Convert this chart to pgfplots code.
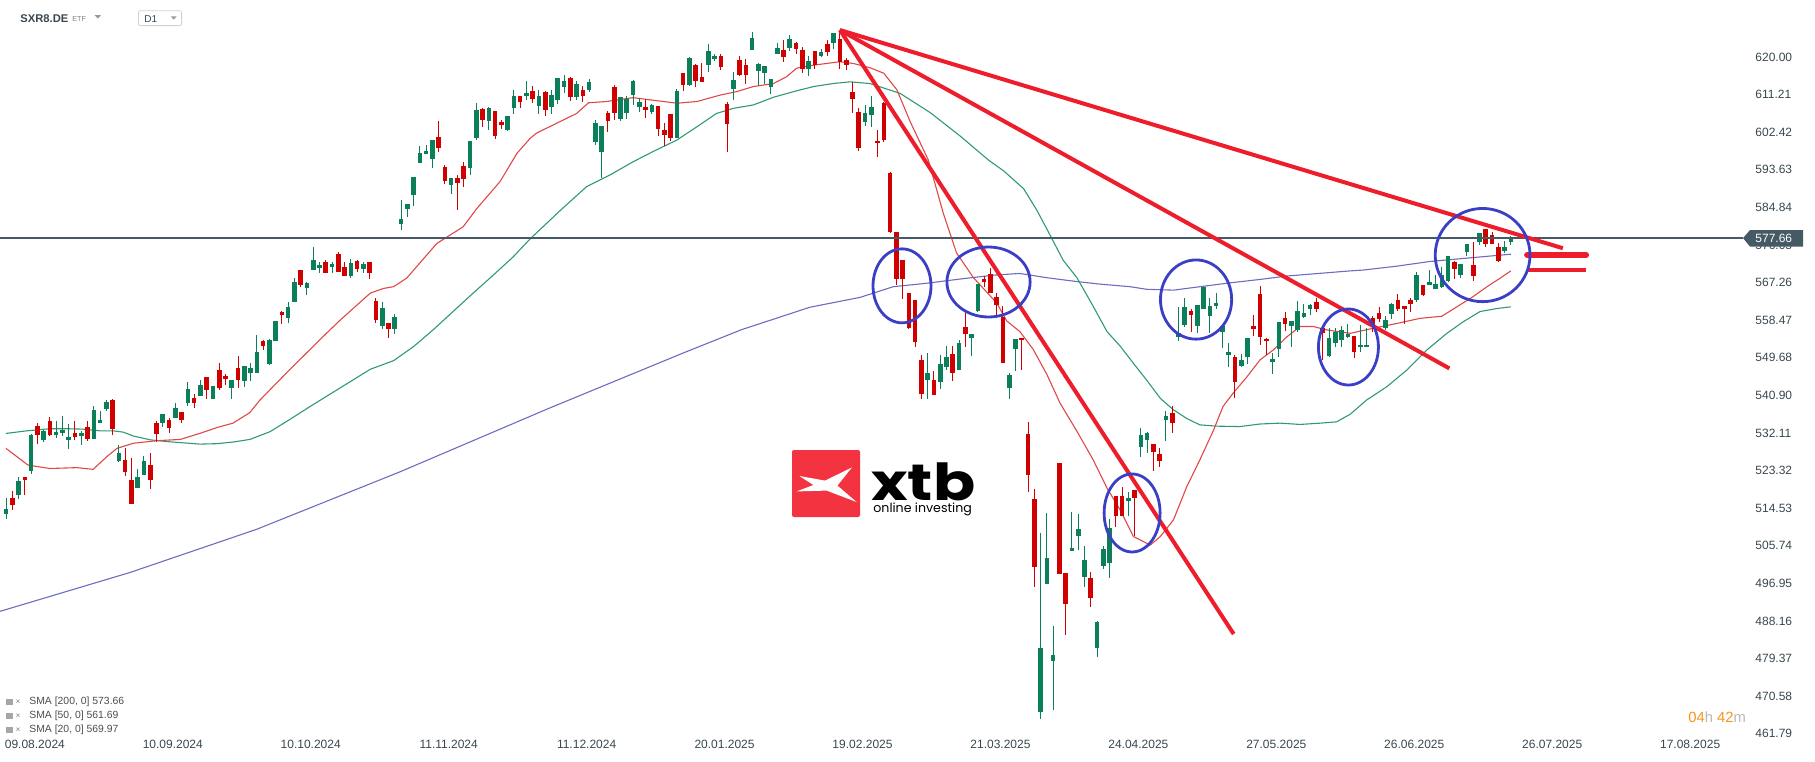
\documentclass[border=0pt]{standalone}
\usepackage{fontspec}
\setmainfont{Liberation Sans}
\newfontfamily\logofont{Poppins}
\usepackage{pgfplots}
\usepackage{pgfplotstable}
\pgfplotsset{compat=1.18}

\definecolor{cup}{HTML}{0B7F5A}
\definecolor{cdown}{HTML}{D10000}
\definecolor{sma20}{HTML}{E04848}
\definecolor{sma50}{HTML}{2F9A72}
\definecolor{sma200}{HTML}{6C6CC0}
\definecolor{trend}{HTML}{EE1D2B}
\definecolor{ring}{HTML}{3B3FC6}
\definecolor{slate}{HTML}{455A64}
\definecolor{labtxt}{HTML}{37474F}
\definecolor{xtbred}{HTML}{F3333F}
\definecolor{clock}{HTML}{F7941D}

% daily candles, i = candle number (0 = 05.08.2024)
\pgfplotstableread{
i o h l c
0 513.2 516.8 512.1 514.3
1 516.9 518.5 514.1 515.3
2 517.6 521.9 516.6 520.9
3 521.8 521.8 517.6 521.2
4 523.3 531.9 522.6 531.6
5 533.7 534.4 529.6 531.7
6 530.5 532.8 530.1 532.6
7 534.9 535.8 531.5 531.7
8 531.7 534.9 531.0 532.3
9 532.2 536.1 531.5 532.8
10 530.5 534.2 528.4 531.2
11 532.1 534.9 530.5 531.2
12 531.5 532.6 529.4 532.1
13 533.5 534.9 530.3 530.8
14 530.8 538.4 530.8 537.5
15 534.5 537.2 534.5 535.1
16 537.7 539.8 537.2 539.4
17 539.8 540.1 531.7 533.0
18 525.6 529.3 525.4 527.4
19 525.9 528.6 522.1 523.1
20 521.1 526.3 515.6 515.6
21 519.3 523.7 519.3 521.8
22 522.4 526.7 522.4 525.6
23 524.6 527.4 519.0 521.0
24 534.4 534.9 530.0 531.9
25 534.5 536.5 533.6 536.5
26 535.1 535.6 532.2 533.3
27 535.7 539.1 535.7 538.0
28 537.0 537.0 534.5 535.1
29 539.0 544.0 538.4 542.4
30 540.3 541.3 538.0 539.2
31 540.8 544.5 540.8 543.3
32 545.2 545.2 540.1 542.2
33 540.1 543.2 540.1 543.2
34 546.8 548.5 542.2 542.7
35 545.4 545.9 543.3 544.8
36 542.7 544.5 540.1 544.5
37 547.3 550.1 542.6 544.5
38 544.3 547.8 542.9 547.8
39 546.1 548.5 544.3 547.3
40 546.1 555.0 546.1 551.0
41 553.6 553.8 551.4 552.5
42 548.2 554.0 548.1 553.8
43 553.6 558.3 553.5 558.3
44 560.5 560.7 557.6 559.7
45 559.1 562.7 557.7 561.6
46 562.8 568.4 562.8 567.3
47 570.2 570.2 566.2 566.7
48 565.9 567.4 564.4 567.2
49 570.3 575.6 570.3 572.6
50 570.8 572.2 569.6 571.4
51 572.1 572.6 569.4 569.4
52 571.0 572.1 569.4 571.6
53 574.0 574.4 569.8 569.8
54 570.9 572.2 568.9 568.9
55 568.7 572.8 568.4 571.9
56 572.3 572.6 569.8 570.5
57 570.5 572.1 569.6 571.6
58 572.1 572.1 568.2 569.4
59 563.0 563.7 557.9 558.6
60 557.2 562.7 556.3 561.4
61 557.7 557.9 554.4 556.5
62 556.3 560.0 555.3 559.3
63 581.0 586.6 579.6 582.1
64 584.5 585.6 582.6 585.6
65 587.7 592.0 585.2 592.0
66 595.2 599.2 595.2 597.6
67 597.3 599.4 597.3 598.0
68 596.2 600.6 594.1 600.6
69 601.3 605.0 597.8 598.7
70 594.3 594.8 590.3 591.0
71 590.1 591.7 588.0 591.7
72 591.7 592.4 584.2 590.6
73 594.5 595.5 589.6 591.5
74 594.1 600.4 592.4 600.4
75 601.1 609.3 600.6 607.6
76 607.9 608.1 603.6 605.3
77 605.0 608.3 602.9 608.1
78 607.4 607.4 600.8 601.5
79 604.8 605.3 603.2 604.1
80 602.9 606.2 602.7 606.2
81 608.1 612.3 606.7 610.9
82 610.9 610.9 608.1 609.5
83 610.9 614.4 610.0 611.6
84 612.1 613.2 609.3 610.2
85 608.5 612.3 606.7 610.9
86 611.9 612.1 606.2 607.6
87 608.3 612.3 606.7 611.1
88 610.0 615.1 609.0 615.1
89 613.0 615.8 611.6 614.4
90 615.1 615.3 609.7 610.7
91 610.7 614.4 609.9 613.7
92 612.3 613.2 609.5 610.9
93 612.3 614.9 611.8 614.2
94 600.1 605.3 599.4 604.6
95 597.8 603.9 591.7 603.9
96 606.9 607.4 602.5 605.0
97 613.0 613.5 605.3 606.9
98 605.5 610.7 605.0 610.7
99 606.9 610.9 605.5 610.2
100 611.1 614.6 608.8 614.4
101 608.3 610.4 607.1 609.5
102 608.3 610.2 605.7 607.6
103 607.1 609.0 606.7 608.8
104 608.5 608.5 601.5 603.2
105 602.9 604.6 599.2 601.8
106 606.7 606.7 600.4 601.1
107 601.1 612.5 601.1 612.1
108 616.3 616.3 612.1 613.5
109 613.5 620.0 613.2 619.8
110 618.1 618.4 613.0 614.4
111 615.3 618.6 614.2 614.2
112 618.1 623.0 616.5 621.4
113 619.5 620.7 619.1 620.2
114 620.2 620.7 617.0 617.7
115 609.0 609.5 597.8 604.3
116 612.5 616.5 610.0 614.6
117 619.3 620.2 615.6 615.8
118 618.1 619.5 613.7 615.8
119 621.6 625.8 621.6 624.4
120 616.7 618.6 613.2 618.4
121 616.3 617.9 613.7 617.9
122 613.0 614.9 611.4 614.9
123 620.7 623.3 620.7 622.1
124 621.6 624.0 618.8 620.0
125 622.1 625.1 621.4 624.2
126 623.3 623.5 620.7 621.9
127 621.6 622.3 616.3 617.2
128 617.2 620.2 615.6 619.1
129 621.4 621.4 617.2 618.1
130 620.2 621.9 620.0 621.2
131 623.0 624.0 620.2 621.2
132 623.3 625.6 621.9 625.6
133 624.2 626.3 617.2 618.8
134 619.3 619.8 617.0 618.1
135 611.8 614.2 606.9 610.2
136 607.1 608.1 598.0 598.7
137 604.8 608.8 603.9 606.9
138 606.4 610.9 603.6 608.4
139 600.4 602.9 596.7 599.8
140 609.3 609.6 600.2 600.6
141 592.8 593.2 578.8 579.2
142 579.2 579.2 566.7 568.0
143 572.5 572.5 563.5 568.2
144 564.9 564.9 556.3 556.7
145 563.2 563.2 552.3 553.3
146 549.2 550.4 540.1 541.2
147 544.6 550.8 540.1 546.1
148 544.4 546.7 541.1 541.1
149 544.0 550.3 542.3 548.2
150 547.5 552.5 546.8 549.8
151 550.6 552.5 544.3 546.2
152 546.8 553.8 546.8 553.2
153 556.8 560.4 552.1 555.2
154 554.4 555.3 550.0 555.3
155 560.6 567.0 560.3 567.0
156 568.0 568.8 566.3 567.4
157 569.2 570.6 564.9 564.9
158 563.9 564.9 559.2 562.1
159 559.2 561.7 548.5 548.5
160 542.7 546.2 540.0 545.7
161 551.7 554.1 546.7 554.1
162 554.4 554.4 546.9 553.8
163 531.9 534.6 518.3 522.3
164 516.6 519.1 496.0 500.7
165 466.9 508.7 465.2 481.9
166 496.8 513.3 496.8 502.8
167 478.9 487.0 467.3 480.3
168 525.2 525.2 499.2 499.2
169 499.3 499.3 484.9 492.2
170 504.5 513.7 504.5 505.3
171 508.1 513.1 504.7 509.7
172 498.4 505.6 496.0 502.4
173 498.1 499.7 491.4 493.6
174 481.9 488.2 479.7 487.8
175 501.0 505.7 500.3 504.9
176 501.6 512.0 498.1 509.9
177 517.3 517.3 510.1 512.6
178 517.3 519.4 512.6 512.8
179 516.2 518.4 512.6 517.0
180 518.8 518.8 508.0 516.8
181 528.9 533.2 526.4 531.6
182 530.5 532.3 527.5 532.0
183 529.5 529.5 523.3 527.7
184 527.3 528.5 524.1 525.6
185 535.1 537.2 530.3 536.1
186 536.7 538.4 532.2 534.5
187 554.5 561.6 553.7 555.4
188 557.3 563.6 557.0 561.5
189 560.7 561.2 555.8 559.7
190 557.2 562.0 555.6 562.0
191 561.1 566.2 561.1 566.2
192 559.5 563.6 555.4 561.8
193 561.9 564.8 561.1 562.4
194 555.6 557.2 552.0 557.2
195 550.3 553.1 547.6 551.1
196 549.9 550.3 540.2 544.1
197 547.8 550.5 547.6 549.2
198 549.9 554.2 548.2 554.2
199 557.1 559.7 554.8 556.5
200 564.6 566.5 552.7 554.6
201 554.2 554.2 550.3 553.7
202 548.8 550.7 546.0 549.4
203 551.7 558.1 549.9 558.1
204 559.1 560.3 556.0 557.5
205 557.2 558.2 552.1 558.2
206 556.2 563.0 555.6 560.6
207 559.3 562.3 559.1 560.1
208 561.2 562.3 559.7 562.0
209 562.7 563.6 560.5 561.1
210 556.6 556.6 549.2 555.4
211 550.1 556.6 549.8 554.4
212 553.1 556.6 552.1 555.8
213 553.8 557.1 552.1 556.2
214 554.5 557.6 554.2 555.2
215 554.8 554.8 549.6 551.1
216 552.1 557.4 551.1 552.7
217 552.1 556.7 552.1 552.7
218 559.1 559.5 555.8 557.4
219 560.2 561.5 558.1 558.8
220 556.7 559.5 556.3 558.5
221 559.9 562.6 558.7 562.3
222 563.2 564.5 560.7 561.2
223 561.8 561.8 557.7 561.0
224 563.2 563.7 560.5 562.2
225 563.2 569.8 562.8 569.0
226 566.7 566.7 564.1 564.4
227 566.8 570.2 566.8 567.4
228 565.8 569.0 565.8 566.9
229 566.3 571.0 565.9 569.0
230 567.7 573.5 567.5 573.5
231 572.2 572.2 568.0 570.4
232 569.0 571.6 568.3 571.6
233 574.5 576.3 573.5 576.3
234 571.4 576.8 567.7 568.7
235 576.8 578.8 576.1 578.8
236 579.7 579.7 575.7 576.2
237 578.4 579.0 576.4 576.4
238 575.5 576.6 572.2 572.4
239 574.7 577.0 574.3 575.5
240 576.7 578.2 576.1 577.66
}\candles

\pgfplotsset{
  wick/.style={draw=none, mark=none, forget plot,
    error bars/y dir=both, error bars/y explicit, error bars/error mark=none,
    error bars/error bar style={line width=0.5pt, draw=#1}},
  body/.style={draw=none, mark=none, forget plot,
    error bars/y dir=both, error bars/y explicit, error bars/error mark=none,
    error bars/error bar style={line width=2.3pt, draw=#1}},
  up/.style={restrict expr to domain={\thisrow{c}-\thisrow{o}}{0:1000}},
  down/.style={restrict expr to domain={\thisrow{c}-\thisrow{o}}{-1000:-0.001}},
}

\begin{document}
\begin{tikzpicture}
\begin{axis}[
  at={(0pt,0pt)}, anchor=north west,
  scale only axis, width=872.5pt, height=367.5pt,
  xmin=-0.96, xmax=277.35, ymin=461.49, ymax=633.33,
  clip=false,
  axis line style={draw=none},
  major tick length=0pt,
  xtick={4.6,26.6,...,268.6},
  xticklabels={09.08.2024,10.09.2024,10.10.2024,11.11.2024,11.12.2024,20.01.2025,19.02.2025,21.03.2025,24.04.2025,27.05.2025,26.06.2025,26.07.2025,17.08.2025},
  x tick label style={anchor=center, yshift=-4.5pt, inner sep=0pt,
    font=\fontsize{6}{7}\selectfont, text=labtxt},
  ytick={620.00,611.21,602.42,593.63,584.84,576.05,567.26,558.47,549.68,540.90,532.11,523.32,514.53,505.74,496.95,488.16,479.37,470.58,461.79},
  yticklabels={620.00,611.21,602.42,593.63,584.84,576.05,567.26,558.47,549.68,540.90,532.11,523.32,514.53,505.74,496.95,488.16,479.37,470.58,461.79},
  yticklabel pos=right,
  y tick label style={anchor=west, inner sep=0pt, xshift=5pt,
    font=\fontsize{6}{7}\selectfont, text=labtxt},
]

% moving averages
\addplot[sma200, line width=0.55pt, no markers] coordinates {
(-0.96,490.4) (19.8,499.5) (40,509.6) (62.8,523) (86.8,538) (108,550.8)
(117.2,556.2) (128.2,561.5) (136.2,563.8) (141.5,566.3) (146.8,567.1)
(152.2,568.1) (157.5,569) (161.7,569.4) (166,568.4) (170.8,567.5)
(174.5,566.9) (179.3,566.3) (181.9,565.7) (186.2,565.5) (190.4,566.3)
(195.2,567.2) (200,568) (204.3,568.8) (208.5,569.3) (214.4,570)
(216.5,570.2) (221.8,571.1) (227.1,572.2) (232.4,572.9) (240,573.9)
};
\addplot[sma50, line width=0.55pt, no markers] coordinates {
(0,532) (3.3,532.6) (7,533.1) (9.7,533.1) (12.3,533) (15,532.6) (17.1,532.6)
(18.7,532.3) (20.3,531.4) (23,530.5) (25.6,530.1) (28.3,529.8) (30.9,529.5)
(33.6,529.6) (36.3,530) (38.9,530.6) (42.1,532.4) (45.3,535.3) (48.5,538.3)
(51.7,541.2) (54.9,544.1) (58.1,547) (61.8,549) (65,552.3) (68.1,556.2)
(71.3,560.5) (74.5,564.8) (77.7,569) (80.9,573.3) (83.6,577.5) (88.6,584.4)
(92.6,589.7) (96.3,592.4) (100,595.5) (103.2,597.9) (107,600.6) (110.2,603.7)
(113.3,606.8) (116,608) (119.2,608.8) (122.4,610.6) (126.1,612.1)
(128.8,613.1) (131.9,613.8) (134.6,614.2) (137.8,613.8) (142.6,611.5)
(147.4,607) (152.2,601.5) (156.7,595.9) (159.1,593.4) (162.3,589.2)
(164.4,584.2) (166.5,578.4) (168.6,572.5) (170.8,568.4) (173.4,561.7)
(175.6,555.8) (177.7,552.4) (179.8,548.4) (181.9,544.5) (184.1,540.2)
(186.2,537.5) (188.3,535.5) (190.4,534) (193.1,533.7) (196.8,533.6)
(200,534.2) (203.2,534.4) (206.4,534.1) (209.6,534.4) (212.2,534.7)
(214.4,536.5) (217,539.8) (220.2,542.9) (223.4,546.8) (226.6,551.5)
(229.8,555.4) (232.4,558.1) (235.1,560.5) (237.8,561.2) (240,561.6)
};
\addplot[sma20, line width=0.55pt, no markers] coordinates {
(0,528.5) (3.5,524.6) (7,523.8) (11.3,524) (13.9,523.6) (16.1,526.6)
(17.7,528.5) (20.3,529.7) (24.1,530.3) (27.8,530.6) (30.9,532) (33.7,533.4)
(36.2,534.4) (38.9,536.9) (40.5,539.8) (42.1,542.2) (45.3,547) (51.1,555.4)
(53.3,558.5) (58.1,564.8) (60.2,565.9) (61.8,566.3) (63.9,568.3) (68.7,576.4)
(72.9,580.3) (75.1,584.6) (78.8,590.9) (81.5,597.5) (83.6,601) (84.6,602.2)
(87.8,604.5) (91,606.8) (92.9,609.3) (95.8,609.6) (100,610.5) (103.2,609.9)
(107,609.2) (110.2,609.6) (113.9,611.1) (116.5,611.9) (119.2,613.1)
(122.4,613.8) (124.5,615.4) (126.1,617.4) (128.8,618.1) (133,618.9)
(135.1,618.5) (137.8,617.5) (140,616.2) (142.1,612.3) (144.2,604.9) (147.1,595.9)
(149.5,583.4) (151.6,574.2) (154.3,568.4) (158,562.5) (159.6,558.3)
(161.7,555.8) (163.8,551.7) (166,545.8) (168.1,539.1) (170.8,532.5)
(173.4,525.8) (175.6,519.2) (177.7,514.1) (179.8,507.9) (182.5,505.9)
(184.1,507.9) (186.2,511.8) (188.3,519.5) (190.4,525.8) (192.6,532.8)
(194.1,538.3) (195.7,541.4) (197.9,545.2) (200,549.2) (202.1,551.5)
(204.3,554.6) (206.4,557) (208.5,557) (210.6,556.2) (214.4,555.4)
(218.1,556.6) (221.8,557.7) (225.5,558.9) (229,559.4) (231.4,561.6)
(234,564) (236.2,566.3) (238.3,568.3) (240,570)
};

% candles: wicks then bodies, split by direction
\addplot[wick=cup, up]
  table[x=i, y expr={(\thisrow{h}+\thisrow{l})/2}, y error expr={(\thisrow{h}-\thisrow{l})/2}] {\candles};
\addplot[wick=cdown, down]
  table[x=i, y expr={(\thisrow{h}+\thisrow{l})/2}, y error expr={(\thisrow{h}-\thisrow{l})/2}] {\candles};
\addplot[body=cup, up]
  table[x=i, y expr={(\thisrow{o}+\thisrow{c})/2}, y error expr={max(abs(\thisrow{c}-\thisrow{o})/2,0.12)}] {\candles};
\addplot[body=cdown, down]
  table[x=i, y expr={(\thisrow{o}+\thisrow{c})/2}, y error expr={max(abs(\thisrow{c}-\thisrow{o})/2,0.12)}] {\candles};

% last price line
\draw[slate, line width=0.7pt] (axis cs:-0.96,577.66) -- (axis cs:277,577.66);

% drawn trend lines
\addplot[trend, line width=2pt, no markers] coordinates {(133,626.3) (248.3,575.3)};
\addplot[trend, line width=2pt, no markers] coordinates {(133,626.3) (230.2,547.2)};
\addplot[trend, line width=2pt, no markers] coordinates {(133,626.3) (195.8,485.1)};
\addplot[trend, line width=3pt, line cap=round, no markers] coordinates {(242.6,573.7) (252,573.7)};
\addplot[trend, line width=1.6pt, no markers] coordinates {(242.7,570.2) (252,570.2)};

% circles
\draw[ring, line width=1.4pt] (axis cs:142.9,566.5) ellipse [x radius=14.5pt, y radius=18.5pt];
\draw[ring, line width=1.4pt] (axis cs:156.7,567.4) ellipse [x radius=20.8pt, y radius=17.5pt];
\draw[ring, line width=1.4pt] (axis cs:179.6,513.4) ellipse [x radius=14pt, y radius=19.5pt];
\draw[ring, line width=1.4pt] (axis cs:189.8,563.3) ellipse [x radius=17.8pt, y radius=19.8pt];
\draw[ring, line width=1.4pt] (axis cs:214.1,552.2) ellipse [x radius=15pt, y radius=19pt];
\draw[ring, line width=1.4pt] (axis cs:235.5,573.7) ellipse [x radius=23.7pt, y radius=23.3pt];
\end{axis}

% price tag
\fill[slate] (871.5pt,-119.05pt) -- (875pt,-115pt) -- (901.5pt,-115pt)
  -- (901.5pt,-123.3pt) -- (875pt,-123.3pt) -- cycle;
\node[anchor=west, inner sep=0pt, text=white, font=\fontsize{6}{7}\selectfont]
  at (877.5pt,-119.1pt) {577.66};

% header
\node[anchor=west, inner sep=0pt, text=labtxt, font=\bfseries\fontsize{5.6}{6}\selectfont]
  at (10pt,-9.2pt) {SXR8.DE};
\node[anchor=west, inner sep=0pt, text=gray, font=\fontsize{3.6}{4}\selectfont]
  at (36pt,-9.6pt) {ETF};
\fill[gray!80] (47.3pt,-7.6pt) -- (50.5pt,-7.6pt) -- (48.9pt,-9.3pt) -- cycle;
\draw[gray!35, line width=0.4pt, rounded corners=1pt] (69.2pt,-5.4pt) rectangle (90.8pt,-12.8pt);
\node[anchor=west, inner sep=0pt, text=labtxt, font=\fontsize{5}{6}\selectfont]
  at (72pt,-9.6pt) {D1};
\fill[gray!80] (85.4pt,-8.2pt) -- (88.3pt,-8.2pt) -- (86.85pt,-9.8pt) -- cycle;

% indicator list
\foreach \yy/\txt in {-351pt/{SMA [200, 0] 573.66}, -358pt/{SMA [50, 0] 561.69}, -365pt/{SMA [20, 0] 569.97}} {
  \fill[gray!70] (3pt,\yy+1.6pt) rectangle (6.3pt,\yy-1.6pt);
  \node[anchor=west, inner sep=0pt, text=gray, font=\fontsize{4.2}{5}\selectfont] at (7.6pt,\yy) {×};
  \node[anchor=west, inner sep=0pt, text=black!70, font=\fontsize{5.2}{6}\selectfont] at (14.5pt,\yy) {\txt};
}

% timer
\node[anchor=west, inner sep=0pt, font=\fontsize{7.4}{8}\selectfont] at (844pt,-358.5pt)
  {\textcolor{clock}{04}\textcolor{gray!55}{h} \textcolor{clock}{42}\textcolor{gray!55}{m}};

% xtb logo
\fill[xtbred, rounded corners=1pt] (396pt,-225pt) rectangle (430pt,-258.5pt);
\fill[white] (399.7pt,-238pt) -- (412.5pt,-240.3pt) -- (426pt,-233.7pt) -- (418.7pt,-242.8pt)
  -- (428.3pt,-251pt) -- (413.3pt,-245.3pt) -- (398.3pt,-245.7pt) -- (406.7pt,-242.5pt) -- cycle;
\node[anchor=base west, inner sep=0pt, text depth=0pt, font=\logofont\bfseries\fontsize{25.5}{25}\selectfont]
  at (435.5pt,-250pt) {\scalebox{1.22}[1]{xtb}};
\node[anchor=base west, inner sep=0pt, text height=4.6pt, font=\logofont\fontsize{6.3}{7}\selectfont]
  at (436.5pt,-256.2pt) {online investing};

\pgfresetboundingbox
\path[use as bounding box] (0pt,0pt) rectangle (907.5pt,-380.5pt);
\end{tikzpicture}
\end{document}
